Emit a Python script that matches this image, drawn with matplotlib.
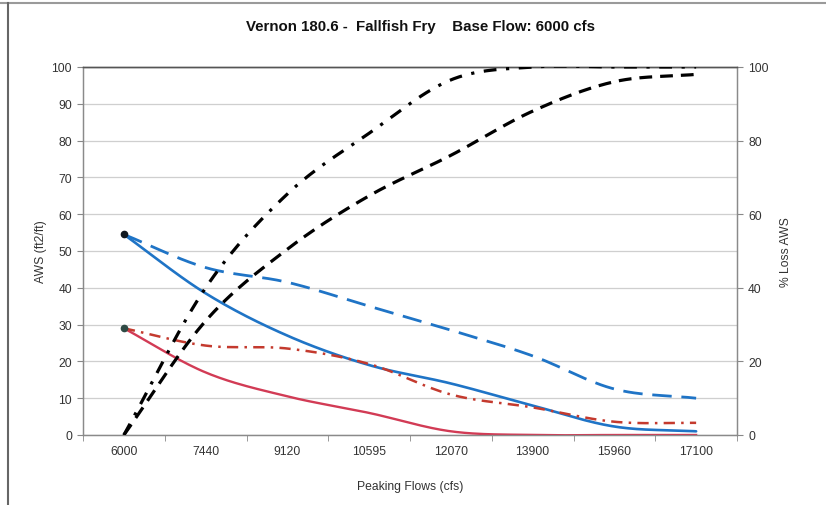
import numpy as np
import matplotlib
matplotlib.use("Agg")
import matplotlib.pyplot as plt
from matplotlib.lines import Line2D

plt.rcParams['font.family'] = ['Liberation Sans', 'DejaVu Sans']

categories = ["6000", "7440", "9120", "10595", "12070", "13900", "15960", "17100"]
aws_blue_solid = [54.5, 38.5, 27.0, 19.0, 14.0, 8.0, 2.3, 1.0]
aws_blue_dashed = [54.5, 45.5, 41.5, 35.0, 28.5, 21.5, 12.5, 10.0]
aws_red_solid = [29.0, 17.0, 10.5, 6.0, 1.0, 0.0, 0.0, 0.0]
aws_red_dashdot = [29.0, 24.3, 23.5, 19.3, 11.0, 7.5, 3.6, 3.3]
loss_dashdot = [0.0, 40.0, 65.5, 82.0, 96.5, 100.0, 100.0, 100.0]
loss_dashed = [0.0, 31.0, 50.5, 65.0, 76.0, 88.0, 96.0, 98.0]

title = "Vernon 180.6 -  Fallfish Fry    Base Flow: 6000 cfs"


def smooth(vals, n=30):
    y = np.asarray(vals, dtype=float)
    x = np.arange(len(y), dtype=float)
    m = np.zeros_like(y)
    m[1:-1] = (y[2:] - y[:-2]) / 2.0
    m[0] = (y[1] - y[0])
    m[-1] = (y[-1] - y[-2])
    xs, ys = [], []
    for i in range(len(y) - 1):
        t = np.linspace(0, 1, n, endpoint=(i == len(y) - 2))
        h00 = 2 * t**3 - 3 * t**2 + 1
        h10 = t**3 - 2 * t**2 + t
        h01 = -2 * t**3 + 3 * t**2
        h11 = t**3 - t**2
        xs.append(x[i] + t)
        ys.append(h00 * y[i] + h10 * m[i] + h01 * y[i + 1] + h11 * m[i + 1])
    return np.concatenate(xs), np.concatenate(ys)


fig = plt.figure(figsize=(8.26, 5.06), dpi=100)
ax = fig.add_axes([83 / 826, 1 - 436 / 506, (737 - 83) / 826, (436 - 68) / 506])
ax2 = ax.twinx()

n = len(categories)
ax.set_xlim(-0.5, n - 0.5)
ax.set_ylim(0, 100)
ax2.set_ylim(0, 100)

blue = '#1f74c6'
red_s = '#d23b55'
red_d = '#c43a2e'

xs, ys = smooth(aws_blue_solid)
ax.plot(xs, ys, color=blue, lw=1.9, solid_capstyle='round', zorder=4)
xs, ys = smooth(aws_blue_dashed)
ax.plot(xs, ys, color=blue, lw=2.0, dashes=(7, 3.5), zorder=4)
xs, ys = smooth(aws_red_solid)
ax.plot(xs, ys, color=red_s, lw=1.7, zorder=4)
xs, ys = smooth(aws_red_dashdot)
ax.plot(xs, ys, color=red_d, lw=1.8, dashes=(4.5, 2.5, 1, 2.5), zorder=4)

ax.plot([0], [aws_blue_solid[0]], 'o', color='#101820', ms=4.5, zorder=6)
ax.plot([0], [aws_red_solid[0]], 'o', color='#2e4a44', ms=4.5, zorder=6)

xs, ys = smooth(loss_dashdot)
ax2.plot(xs, ys, color='black', lw=2.3, dashes=(4, 3, 1, 3), zorder=5)
xs, ys = smooth(loss_dashed)
ax2.plot(xs, ys, color='black', lw=2.3, dashes=(4, 2.5), zorder=5)

# grid
ax.set_yticks(np.arange(0, 101, 10))
ax.yaxis.grid(True, color='#cfcfcf', lw=0.9)
ax.set_axisbelow(True)
ax2.set_yticks(np.arange(0, 101, 20))

ax.set_xticks(range(n))
ax.set_xticklabels(categories)
ax.set_xticks(np.arange(-0.5, n, 1), minor=True)
ax.tick_params(axis='x', which='major', length=0, pad=7, labelsize=8.7, labelcolor='#333333')
ax.tick_params(axis='x', which='minor', length=4, color='#888888')
ax.tick_params(axis='y', length=4, color='#888888', labelsize=8.7, labelcolor='#333333', pad=4)
ax2.tick_params(axis='y', length=4, color='#888888', labelsize=8.7, labelcolor='#333333', pad=4)

for a in (ax, ax2):
    for s in ('left', 'right', 'bottom'):
        a.spines[s].set_color('#8a8a8a')
        a.spines[s].set_linewidth(0.9)
    a.spines['top'].set_color('#555555')
    a.spines['top'].set_linewidth(1.0)

ax.set_xlabel("Peaking Flows (cfs)", fontsize=8.7, color='#333333', labelpad=17)
ax.set_ylabel("AWS (ft2/ft)", fontsize=8.7, color='#333333', labelpad=3)
ax2.set_ylabel("% Loss AWS", fontsize=8.7, color='#333333', labelpad=8)
fig.text(421 / 826, 1 - 27 / 506, title, ha='center', va='center',
         fontsize=10.8, fontweight='bold', color='#111111')

# outer frame lines
fig.add_artist(Line2D([0, 1], [1 - 4 / 506, 1 - 4 / 506], transform=fig.transFigure,
                      color='#9a9a9a', lw=1.5))
fig.add_artist(Line2D([8 / 826, 8 / 826], [0, 1 - 4 / 506], transform=fig.transFigure,
                      color='#666666', lw=1.5))

fig.savefig("out.png", dpi=100)
